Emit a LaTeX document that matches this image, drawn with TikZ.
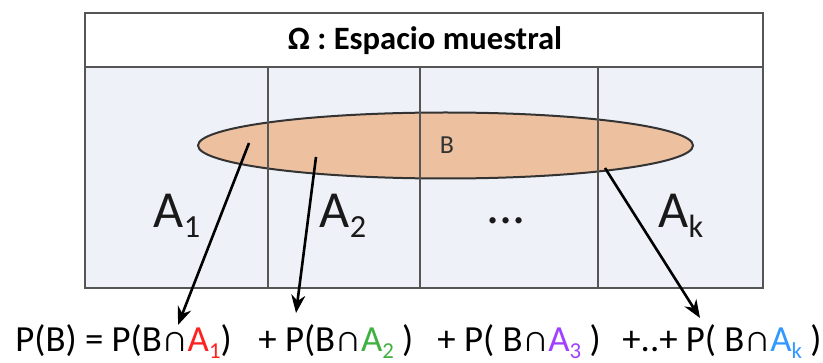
\documentclass[tikz,border=0pt]{standalone}
\usepackage{fontspec}
\setmainfont{Carlito}
\usetikzlibrary{arrows.meta}

\definecolor{cellfill}{HTML}{EEF2F8}
\definecolor{setB}{HTML}{EDC19F}
\definecolor{gridline}{HTML}{555555}
\definecolor{redA}{HTML}{FF2020}
\definecolor{greenA}{HTML}{40B040}
\definecolor{purpleA}{HTML}{A040FF}
\definecolor{blueA}{HTML}{3399FF}

\newcommand{\lowsub}[1]{\raisebox{-0.4ex}{\scalebox{0.62}{#1}}}

\tikzset{
  partlabel/.style={font=\fontsize{26}{28}\selectfont, text=black!90},
  sumterm/.style={font=\fontsize{18.4}{20}\selectfont, anchor=base west, inner sep=0pt},
  pointer/.style={-{Stealth[length=9pt,width=7pt]}, line width=1.3pt, black}
}

\begin{document}
\begin{tikzpicture}[x=0.5pt, y=-0.5pt]
\useasboundingbox (0,0) rectangle (823,363);

% sample space
\fill[cellfill] (85,67) rectangle (763,288);
\draw[setB!100, fill=setB] (445.5,145.5) ellipse [x radius=247.5, y radius=33];
\draw[line width=1pt, black!80] (445.5,145.5) ellipse [x radius=247.5, y radius=33];
\foreach \xc in {268,420,598}
  \draw[gridline, line width=0.8pt] (\xc,67) -- (\xc,288);
\draw[gridline, line width=1pt] (85,67) -- (763,67);
\draw[gridline, line width=1.1pt] (85,13) rectangle (763,288);

\node[font=\fontsize{16.3}{18}\selectfont\bfseries] (omega) at (425,41) {Ω : Espacio muestral};
\node[font=\fontsize{13}{14}\selectfont, text=black!80] (setb) at (447,145) {B};

\node[partlabel] (a1) at (177,216) {A\lowsub{1}};
\node[partlabel] (a2) at (343,216) {A\lowsub{2}};
\node[partlabel] (dots) at (506,221) {...};
\node[partlabel] (ak) at (681,216) {A\lowsub{k}};

% law of total probability
\node[sumterm] (t1) at (15,351) {P(B) = P(B∩\textcolor{redA}{A\lowsub{1}})};
\node[sumterm] (t2) at (258,351) {+ P(B∩\textcolor{greenA}{A\lowsub{2}} )};
\node[sumterm] (t3) at (437,351) {+ P( B∩\textcolor{purpleA}{A\lowsub{3}} )};
\node[sumterm] (t4) at (622,351) {+..+ P( B∩\textcolor{blueA}{A\lowsub{k}} )};

\coordinate (s1) at (249,143);
\coordinate (s2) at (316,157);
\coordinate (s3) at (605,168);
\coordinate (e1) at (178,325);
\coordinate (e2) at (296,313);
\coordinate (e3) at (700,318);

\draw[pointer] (s1) -- (e1);
\draw[pointer] (s2) -- (e2);
\draw[pointer] (s3) -- (e3);
\end{tikzpicture}
\end{document}
